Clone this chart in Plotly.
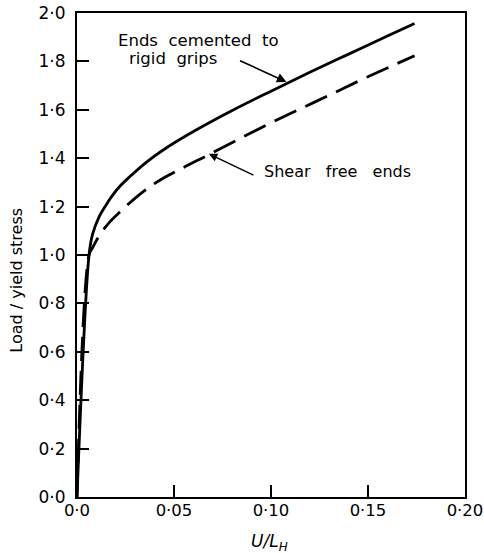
import plotly.graph_objects as go

# Solid curve: ends cemented to rigid grips
x_cemented = [0, 0.0062, 0.008, 0.0115, 0.015, 0.018, 0.022, 0.027, 0.036, 0.045, 0.06, 0.08, 0.1, 0.12, 0.14, 0.16, 0.174]
y_cemented = [0, 1.0, 1.085, 1.16, 1.207, 1.243, 1.283, 1.322, 1.385, 1.437, 1.51, 1.597, 1.677, 1.755, 1.83, 1.905, 1.957]

# Dashed curve: shear free ends
x_shear = [0, 0.0062, 0.008, 0.0115, 0.0167, 0.022, 0.03, 0.0372, 0.044, 0.055, 0.068, 0.0885, 0.11, 0.13, 0.15, 0.174]
y_shear = [0, 1.0, 1.03, 1.08, 1.135, 1.177, 1.235, 1.28, 1.315, 1.362, 1.415, 1.5, 1.585, 1.66, 1.737, 1.823]

x_tickvals = [0, 0.05, 0.10, 0.15, 0.20]
x_ticktext = ["0·0", "0·05", "0·10", "0·15", "0·20"]
y_tickvals = [0, 0.2, 0.4, 0.6, 0.8, 1.0, 1.2, 1.4, 1.6, 1.8, 2.0]
y_ticktext = ["0·0", "0·2", "0·4", "0·6", "0·8", "1·0", "1·2", "1·4", "1·6", "1·8", "2·0"]

FONT = "DejaVu Sans, sans-serif"

fig = go.Figure()
fig.add_trace(go.Scatter(x=x_shear, y=y_shear, mode="lines", line=dict(color="black", width=2.8, dash="24px,10px"),
                         line_shape="spline", showlegend=False))
fig.add_trace(go.Scatter(x=x_cemented, y=y_cemented, mode="lines", line=dict(color="black", width=2.8),
                         line_shape="spline", showlegend=False))

# arrows
fig.add_annotation(x=0.108, y=1.715, xref="x", yref="y", ax=-48, ay=-22,
                   showarrow=True, arrowhead=2, arrowsize=1.2, arrowwidth=1.6, arrowcolor="black", text="")
fig.add_annotation(x=0.068, y=1.418, xref="x", yref="y", ax=46, ay=22,
                   showarrow=True, arrowhead=2, arrowsize=1.2, arrowwidth=1.4, arrowcolor="black", text="")

# labels
fig.add_annotation(x=0.1039, y=0.944, xref="paper", yref="paper", text="Ends&nbsp; cemented&nbsp; to",
                   showarrow=False, font=dict(family=FONT, size=16.5, color="black"),
                   xanchor="left", yanchor="middle", borderpad=0)
fig.add_annotation(x=0.1325, y=0.905, xref="paper", yref="paper", text="rigid&nbsp; grips",
                   showarrow=False, font=dict(family=FONT, size=16.5, color="black"),
                   xanchor="left", yanchor="middle", borderpad=0)
fig.add_annotation(x=0.4794, y=0.672, xref="paper", yref="paper", text="Shear&nbsp;&nbsp; free&nbsp;&nbsp; ends",
                   showarrow=False, xanchor="left", yanchor="middle", borderpad=0,
                   font=dict(family=FONT, size=16, color="black"))

# axis titles as annotations
fig.add_annotation(x=-0.156, y=0.448, xref="paper", yref="paper", text="Load / yield stress", textangle=-90,
                   showarrow=False, font=dict(family=FONT, size=16, color="black"),
                   xanchor="center", yanchor="middle")
fig.add_annotation(x=0.495, y=-0.093, xref="paper", yref="paper", text="<i>U/L<sub>H</sub></i>",
                   showarrow=False, font=dict(family=FONT, size=17, color="black"),
                   xanchor="center", yanchor="middle")

fig.update_xaxes(range=[0, 0.2], tickvals=x_tickvals, ticktext=x_ticktext, ticks="inside", ticklen=12,
                 tickwidth=1.5, tickcolor="black", showline=True, linewidth=2, linecolor="black", mirror=True,
                 showgrid=False, zeroline=False, tickfont=dict(family=FONT, size=16.5, color="black"),
                 ticklabelstandoff=-3, ticklabeloverflow="allow", automargin=False)
fig.update_yaxes(range=[0, 2.0], tickvals=y_tickvals, ticktext=y_ticktext, ticks="inside", ticklen=12,
                 tickwidth=1.5, tickcolor="black", showline=True, linewidth=2, linecolor="black", mirror=True,
                 showgrid=False, zeroline=False, tickfont=dict(family=FONT, size=17, color="black"),
                 ticklabelstandoff=6, ticklabeloverflow="allow", automargin=False)

fig.update_layout(width=484, height=553, margin=dict(l=77, r=19, t=13, b=56, autoexpand=False),
                  plot_bgcolor="white", paper_bgcolor="white")

fig.write_html("out.html")
